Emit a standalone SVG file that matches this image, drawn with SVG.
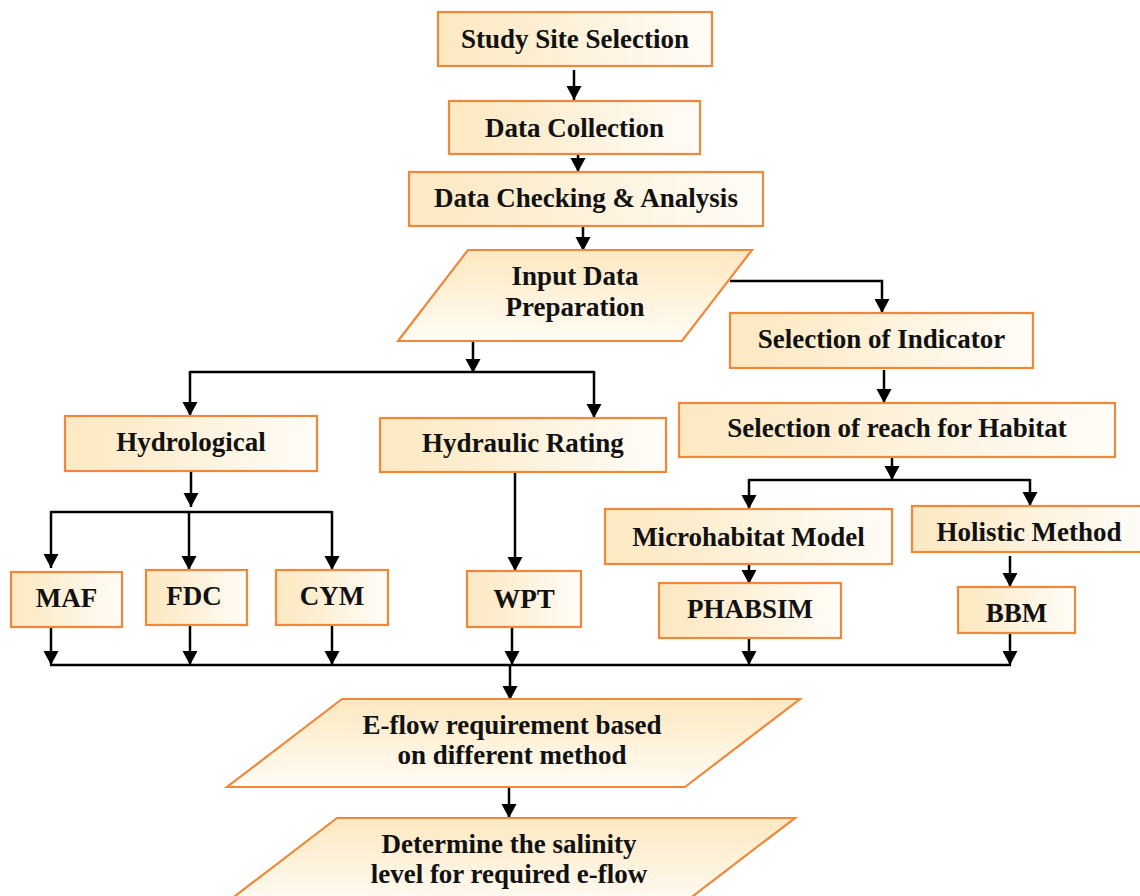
<svg xmlns="http://www.w3.org/2000/svg" width="1140" height="896" viewBox="0 0 1140 896">
<style>
.box{stroke:#f0873a;stroke-width:2.2;fill:url(#gh)}
.para{stroke:#f0873a;stroke-width:2.2;fill:url(#gv)}
.t{font-family:"Liberation Serif","Times New Roman",serif;font-weight:bold;font-size:27px;fill:#111;text-anchor:middle}
.c{fill:none;stroke:#000;stroke-width:2.5}
.a{fill:none;stroke:#000;stroke-width:2.5;marker-end:url(#ah)}
</style>
<defs>
<linearGradient id="gh" x1="0" y1="0" x2="1" y2="0">
<stop offset="0" stop-color="#fde9c3"/>
<stop offset="0.2" stop-color="#fdebc9"/>
<stop offset="1" stop-color="#fffdf8"/>
</linearGradient>
<linearGradient id="gv" x1="0" y1="0" x2="0" y2="1">
<stop offset="0" stop-color="#fde8c0"/>
<stop offset="1" stop-color="#fffcf5"/>
</linearGradient>
<marker id="ah" markerUnits="userSpaceOnUse" markerWidth="16" markerHeight="16" refX="14" refY="7.5" orient="auto">
<path d="M0,0 L14,7.5 L0,15 z" fill="#000"/>
</marker>
</defs>
<rect width="1140" height="896" fill="#fff"/>
<g id="connectors">
<line class="a" x1="574" y1="70" x2="574" y2="100"/>
<line class="a" x1="578" y1="143" x2="578" y2="172"/>
<line class="a" x1="583" y1="227" x2="583" y2="251"/>
<polyline class="a" points="730,281 882,281 882,313"/>
<line class="a" x1="884" y1="370" x2="884" y2="403"/>
<line class="a" x1="892" y1="458" x2="892" y2="480"/>
<polyline class="c" points="749,480 1030,480"/>
<line class="a" x1="749" y1="479" x2="749" y2="509"/>
<line class="a" x1="1030" y1="479" x2="1030" y2="506"/>
<line class="a" x1="749" y1="564" x2="749" y2="584"/>
<line class="a" x1="1010" y1="556" x2="1010" y2="587"/>
<line class="a" x1="473" y1="341" x2="473" y2="373"/>
<polyline class="c" points="190,372 594,372"/>
<line class="a" x1="190" y1="371" x2="190" y2="416"/>
<line class="a" x1="594" y1="371" x2="594" y2="418"/>
<line class="a" x1="191" y1="472" x2="191" y2="507"/>
<polyline class="c" points="51,512 332,512"/>
<line class="a" x1="51" y1="511" x2="51" y2="568"/>
<line class="a" x1="189" y1="511" x2="189" y2="570"/>
<line class="a" x1="332" y1="511" x2="332" y2="570"/>
<line class="a" x1="515" y1="473" x2="515" y2="571"/>
<line class="a" x1="51" y1="628" x2="51" y2="665"/>
<line class="a" x1="190" y1="626" x2="190" y2="665"/>
<line class="a" x1="332" y1="626" x2="332" y2="665"/>
<line class="a" x1="512" y1="628" x2="512" y2="665"/>
<line class="a" x1="749" y1="638" x2="749" y2="665"/>
<line class="a" x1="1010" y1="633" x2="1010" y2="665"/>
<polyline class="c" points="50,665 1011,665"/>
<line class="a" x1="510" y1="665" x2="510" y2="700"/>
<line class="a" x1="509" y1="779" x2="509" y2="818"/>
</g>
<g id="study-site-selection"><rect class="box" x="438" y="12" width="274" height="54"/><text class="t" x="575" y="48">Study Site Selection</text></g>
<g id="data-collection"><rect class="box" x="449" y="101" width="251" height="53"/><text class="t" x="574.5" y="137">Data Collection</text></g>
<g id="data-checking"><rect class="box" x="409" y="172" width="354" height="54"/><text class="t" x="586" y="207">Data Checking &amp; Analysis</text></g>
<g id="input-data"><polygon class="para" points="468,250 752,250 682,341 398,341"/><text class="t" x="575" y="285">Input Data</text><text class="t" x="575" y="316">Preparation</text></g>
<g id="selection-indicator"><rect class="box" x="730" y="313" width="303" height="55"/><text class="t" x="881.5" y="348">Selection of Indicator</text></g>
<g id="selection-reach"><rect class="box" x="679" y="403" width="436" height="54"/><text class="t" x="897" y="437">Selection of reach for Habitat</text></g>
<g id="hydrological"><rect class="box" x="65" y="416" width="252" height="55"/><text class="t" x="191" y="451">Hydrological</text></g>
<g id="hydraulic-rating"><rect class="box" x="380" y="418" width="286" height="54"/><text class="t" x="523" y="452">Hydraulic Rating</text></g>
<g id="maf"><rect class="box" x="11" y="572" width="111" height="55"/><text class="t" x="66.5" y="607">MAF</text></g>
<g id="fdc"><rect class="box" x="146" y="570" width="101" height="55"/><text class="t" x="194" y="605">FDC</text></g>
<g id="cym"><rect class="box" x="276" y="570" width="112" height="55"/><text class="t" x="332" y="605">CYM</text></g>
<g id="wpt"><rect class="box" x="467" y="571" width="114" height="56"/><text class="t" x="524" y="608">WPT</text></g>
<g id="microhabitat"><rect class="box" x="605" y="509" width="287" height="55"/><text class="t" x="748.5" y="546">Microhabitat Model</text></g>
<g id="holistic"><rect class="box" x="912" y="506" width="234" height="46"/><text class="t" x="1029" y="541">Holistic Method</text></g>
<g id="phabsim"><rect class="box" x="659" y="583" width="182" height="55"/><text class="t" x="750" y="618">PHABSIM</text></g>
<g id="bbm"><rect class="box" x="958" y="587" width="117" height="46"/><text class="t" x="1016.5" y="622">BBM</text></g>
<g id="eflow"><polygon class="para" points="342,699 800,699 685,787 227,787"/><text class="t" x="512" y="734">E-flow requirement based</text><text class="t" x="512" y="764">on different method</text></g>
<g id="salinity"><polygon class="para" points="337,818 795,818 680,906 222,906"/><text class="t" x="509" y="853">Determine the salinity</text><text class="t" x="509" y="883">level for required e-flow</text></g>
</svg>
